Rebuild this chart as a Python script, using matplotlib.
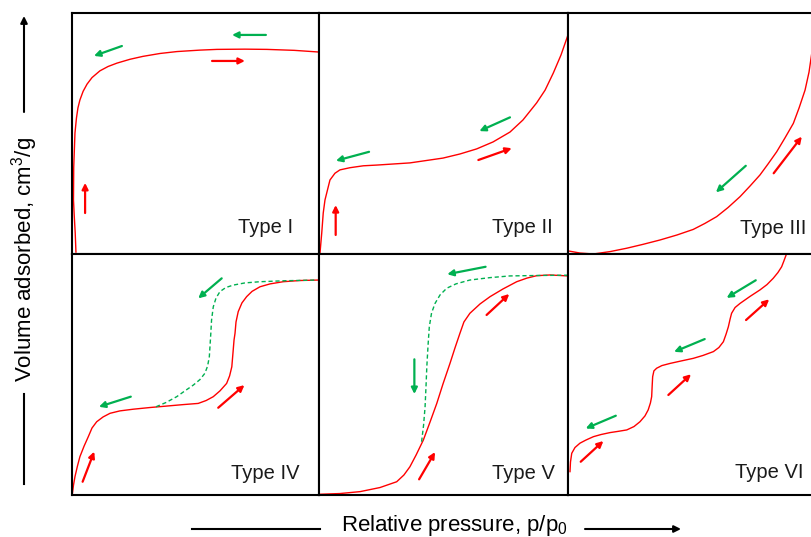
import matplotlib
matplotlib.use("Agg")
import matplotlib.pyplot as plt
from matplotlib.lines import Line2D
from matplotlib.patches import FancyArrowPatch

plt.rcParams['font.family'] = ['Liberation Sans', 'DejaVu Sans']
plt.rcParams['mathtext.fontset'] = 'custom'
plt.rcParams['mathtext.rm'] = 'Liberation Sans'
plt.rcParams['mathtext.it'] = 'Liberation Sans:italic'

RED = '#FF0000'
GREEN = '#00B050'

# ---------------- data (relative pressure x in 0..1, volume y in 0..1) ----------------
type_labels = ['Type I', 'Type II', 'Type III', 'Type IV', 'Type V', 'Type VI']

t1_x = [0.016, 0.013, 0.009, 0.006, 0.007, 0.012, 0.018, 0.024, 0.032, 0.045, 0.061, 0.081,
        0.113, 0.146, 0.182, 0.235, 0.287, 0.356, 0.425, 0.518, 0.587, 0.70, 0.789, 0.90, 1.0]
t1_y = [0.008, 0.087, 0.16, 0.224, 0.36, 0.502, 0.564, 0.606, 0.639, 0.675, 0.705, 0.732,
        0.760, 0.778, 0.792, 0.808, 0.820, 0.832, 0.840, 0.846, 0.849, 0.850, 0.849, 0.845, 0.838]

t2_x = [0.004, 0.011, 0.017, 0.024, 0.037, 0.044, 0.064, 0.084, 0.124, 0.178, 0.232, 0.365,
        0.498, 0.566, 0.633, 0.699, 0.767, 0.819, 0.874, 0.908, 0.941, 0.972, 1.0]
t2_y = [0.004, 0.087, 0.170, 0.224, 0.278, 0.307, 0.335, 0.349, 0.358, 0.366, 0.369, 0.378,
        0.398, 0.415, 0.436, 0.465, 0.506, 0.556, 0.627, 0.680, 0.751, 0.826, 0.909]

t3_x = [0.005, 0.048, 0.102, 0.169, 0.236, 0.301, 0.369, 0.438, 0.503, 0.550, 0.597, 0.643,
        0.691, 0.731, 0.771, 0.803, 0.838, 0.871, 0.905, 0.928, 0.952, 0.968, 0.979, 0.988]
t3_y = [0.012, 0.004, 0.0, 0.010, 0.024, 0.040, 0.058, 0.079, 0.102, 0.127, 0.155, 0.193,
        0.238, 0.282, 0.328, 0.373, 0.424, 0.481, 0.542, 0.606, 0.680, 0.755, 0.833, 0.909]

t4_ads_x = [0.001, 0.006, 0.012, 0.022, 0.032, 0.049, 0.066, 0.081, 0.100, 0.126, 0.154, 0.194,
            0.248, 0.316, 0.383, 0.449, 0.511, 0.543, 0.572, 0.599, 0.626, 0.638, 0.647, 0.652,
            0.656, 0.660, 0.664, 0.673, 0.688, 0.707, 0.729, 0.761, 0.802, 0.855, 0.923, 1.0]
t4_ads_y = [0.0, 0.041, 0.076, 0.120, 0.159, 0.203, 0.242, 0.278, 0.304, 0.324, 0.339, 0.349,
            0.356, 0.363, 0.369, 0.375, 0.380, 0.392, 0.408, 0.432, 0.463, 0.494, 0.532, 0.593,
            0.643, 0.671, 0.718, 0.761, 0.797, 0.823, 0.845, 0.864, 0.876, 0.885, 0.890, 0.892]
t4_des_x = [0.340, 0.381, 0.424, 0.457, 0.491, 0.518, 0.538, 0.549, 0.556, 0.559, 0.562, 0.565,
            0.572, 0.583, 0.599, 0.623, 0.653, 0.700, 0.761, 0.862, 0.991]
t4_des_y = [0.366, 0.384, 0.408, 0.432, 0.456, 0.479, 0.505, 0.535, 0.574, 0.622, 0.671, 0.726,
            0.781, 0.817, 0.844, 0.861, 0.871, 0.880, 0.885, 0.889, 0.892]

t5_ads_x = [0.001, 0.084, 0.165, 0.245, 0.312, 0.341, 0.365, 0.390, 0.419, 0.446, 0.473, 0.498,
            0.526, 0.546, 0.566, 0.582, 0.606, 0.647, 0.687, 0.739, 0.794, 0.835, 0.874, 0.928, 1.0]
t5_ads_y = [0.003, 0.006, 0.014, 0.031, 0.055, 0.083, 0.117, 0.166, 0.228, 0.303, 0.380, 0.461,
            0.546, 0.610, 0.671, 0.718, 0.754, 0.793, 0.823, 0.855, 0.885, 0.900, 0.910, 0.913, 0.909]
t5_des_x = [0.412, 0.420, 0.426, 0.430, 0.433, 0.438, 0.443, 0.452, 0.466, 0.486, 0.513, 0.550,
            0.606, 0.687, 0.767, 0.888, 1.0]
t5_des_y = [0.221, 0.290, 0.366, 0.456, 0.532, 0.622, 0.698, 0.755, 0.795, 0.830, 0.858, 0.876,
            0.892, 0.902, 0.909, 0.911, 0.912]

t6_x = [0.008, 0.010, 0.015, 0.028, 0.048, 0.072, 0.102, 0.133, 0.169, 0.201, 0.236, 0.265,
        0.289, 0.309, 0.322, 0.331, 0.336, 0.338, 0.340, 0.345, 0.356, 0.377, 0.410, 0.458,
        0.503, 0.542, 0.584, 0.606, 0.624, 0.635, 0.644, 0.651, 0.657, 0.671, 0.691, 0.731,
        0.771, 0.799, 0.824, 0.843, 0.858, 0.867, 0.876]
t6_y = [0.097, 0.137, 0.173, 0.197, 0.215, 0.228, 0.242, 0.251, 0.259, 0.264, 0.270, 0.284,
        0.304, 0.328, 0.353, 0.382, 0.408, 0.452, 0.491, 0.515, 0.526, 0.537, 0.546, 0.557,
        0.567, 0.579, 0.595, 0.612, 0.636, 0.668, 0.698, 0.730, 0.754, 0.778, 0.795, 0.824,
        0.851, 0.873, 0.899, 0.923, 0.947, 0.971, 0.996]

# direction arrows: (x_start, y_start, x_end, y_end, colour)
arrows_1 = [(0.053, 0.170, 0.053, 0.295, RED), (0.567, 0.801, 0.700, 0.801, RED),
            (0.785, 0.909, 0.648, 0.909, GREEN), (0.202, 0.863, 0.089, 0.822, GREEN)]
arrows_2 = [(0.067, 0.079, 0.067, 0.203, RED), (0.201, 0.424, 0.068, 0.387, GREEN),
            (0.767, 0.567, 0.644, 0.510, GREEN), (0.640, 0.390, 0.774, 0.439, RED)]
arrows_3 = [(0.714, 0.366, 0.594, 0.256, GREEN), (0.826, 0.335, 0.939, 0.487, RED)]
arrows_4 = [(0.043, 0.055, 0.090, 0.180, RED), (0.238, 0.408, 0.109, 0.366, GREEN),
            (0.606, 0.899, 0.511, 0.816, GREEN), (0.592, 0.362, 0.698, 0.456, RED)]
arrows_5 = [(0.669, 0.947, 0.515, 0.916, GREEN), (0.383, 0.563, 0.383, 0.419, GREEN),
            (0.673, 0.747, 0.764, 0.834, RED), (0.402, 0.065, 0.466, 0.178, RED)]
arrows_6 = [(0.051, 0.138, 0.142, 0.224, RED), (0.192, 0.329, 0.071, 0.276, GREEN),
            (0.403, 0.415, 0.494, 0.501, RED), (0.549, 0.647, 0.426, 0.594, GREEN),
            (0.715, 0.726, 0.808, 0.812, RED), (0.754, 0.891, 0.637, 0.818, GREEN)]

label_pos = [(0.783, 0.108), (0.818, 0.109), (0.825, 0.107),
             (0.783, 0.090), (0.821, 0.090), (0.807, 0.093)]

# ---------------- figure ----------------
W, H = 812, 537
fig = plt.figure(figsize=(W / 100, H / 100), dpi=100)

col_edges = [72, 319, 568, 817]
row_edges = [13, 254, 495]

axes = []
for r in range(2):
    for c in range(3):
        l = col_edges[c] / W
        w = (col_edges[c + 1] - col_edges[c]) / W
        b = 1 - row_edges[r + 1] / H
        h = (row_edges[r + 1] - row_edges[r]) / H
        ax = fig.add_axes([l, b, w, h])
        ax.set_xlim(0, 1)
        ax.set_ylim(0, 1)
        ax.set_xticks([])
        ax.set_yticks([])
        for s in ax.spines.values():
            s.set_linewidth(1.5)
            s.set_color('black')
        axes.append(ax)

lw = 1.0
axes[0].plot(t1_x, t1_y, color=RED, lw=lw)
axes[1].plot(t2_x, t2_y, color=RED, lw=lw)
axes[2].plot(t3_x, t3_y, color=RED, lw=lw)
axes[3].plot(t4_ads_x, t4_ads_y, color=RED, lw=lw)
axes[3].plot(t4_des_x, t4_des_y, color=GREEN, lw=lw, ls=(0, (3, 2)))
axes[4].plot(t5_ads_x, t5_ads_y, color=RED, lw=lw)
axes[4].plot(t5_des_x, t5_des_y, color=GREEN, lw=lw, ls=(0, (3, 2)))
axes[5].plot(t6_x, t6_y, color=RED, lw=lw)

for ax, arrs in zip(axes, [arrows_1, arrows_2, arrows_3, arrows_4, arrows_5, arrows_6]):
    for x0, y0, x1, y1, col in arrs:
        ax.annotate('', xy=(x1, y1), xytext=(x0, y0),
                    arrowprops=dict(arrowstyle='-|>', color=col, lw=1.6,
                                    mutation_scale=9, shrinkA=0, shrinkB=0))

for ax, lab, (lx, ly) in zip(axes, type_labels, label_pos):
    ax.text(lx, ly, lab, fontsize=14.5, ha='center', va='center', color='#1a1a1a')

# axis titles with their arrows
fig.text(25 / W, 1 - 259 / H, 'Volume adsorbed, cm$\\mathregular{^3}$/g', rotation=90,
         fontsize=16, ha='center', va='center')
fig.text(454 / W, 1 - 525 / H, 'Relative pressure, p/p$\\mathregular{_0}$',
         fontsize=16, ha='center', va='center')

fig.add_artist(Line2D([24 / W, 24 / W], [1 - 394 / H, 1 - 484 / H], color='black', lw=1.5))
fig.add_artist(Line2D([192 / W, 320 / W], [1 - 529 / H, 1 - 529 / H], color='black', lw=1.5))
fig.patches.append(FancyArrowPatch(
    (24 / W, 1 - 112 / H), (24 / W, 1 - 16 / H), transform=fig.transFigure,
    arrowstyle='-|>', mutation_scale=10, lw=1.5, color='black', shrinkA=0, shrinkB=0))
fig.patches.append(FancyArrowPatch(
    (585 / W, 1 - 529 / H), (681 / W, 1 - 529 / H), transform=fig.transFigure,
    arrowstyle='-|>', mutation_scale=10, lw=1.5, color='black', shrinkA=0, shrinkB=0))

fig.savefig('out.png', dpi=100)
